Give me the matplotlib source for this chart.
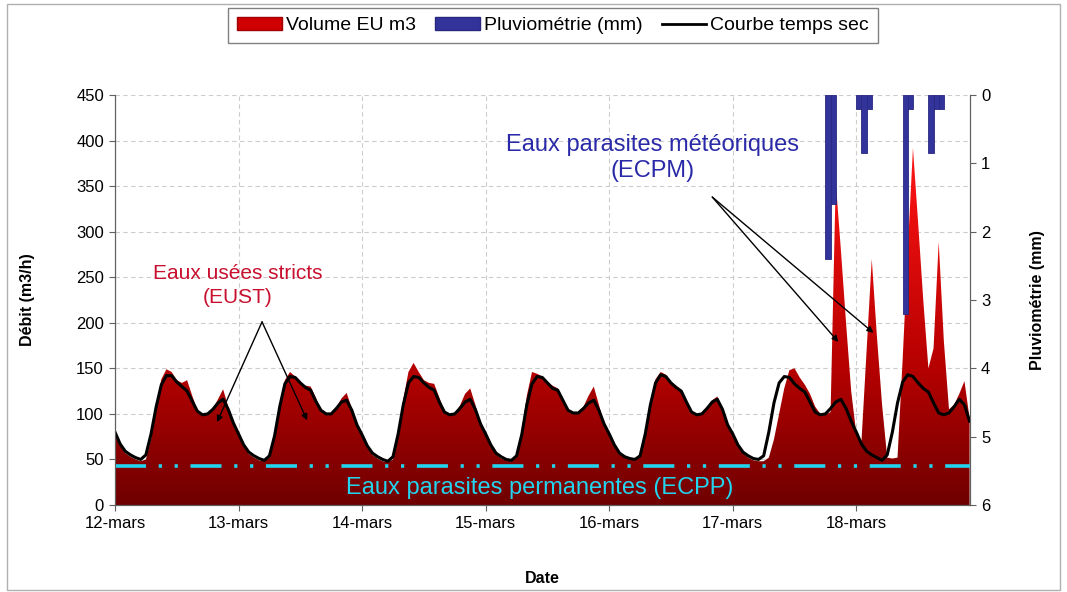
import numpy as np
import matplotlib
matplotlib.use("Agg")
import matplotlib.pyplot as plt
from matplotlib.colors import LinearSegmentedColormap
from matplotlib.patches import Patch, Rectangle
from matplotlib.lines import Line2D

plt.rcParams['font.family'] = ['Liberation Sans', 'DejaVu Sans']

# Libellés des jours (axe X)
jours = ['12-mars', '13-mars', '14-mars', '15-mars', '16-mars', '17-mars', '18-mars']

# Débit mesuré (m3/h), pas horaire, un tableau par jour
eu_12 = [76, 65, 57, 53, 50, 48, 50, 72, 108, 138, 149, 146, 137, 134, 137, 120, 104, 99, 100, 105, 116, 127, 108, 88]
eu_13 = [76, 64, 56, 52, 49, 48, 52, 74, 110, 137, 146, 141, 134, 131, 130, 118, 104, 100, 101, 107, 117, 123, 106, 87]
eu_14 = [75, 63, 55, 51, 48, 47, 50, 76, 116, 146, 156, 146, 137, 134, 133, 118, 103, 99, 101, 109, 122, 128, 110, 88]
eu_15 = [77, 64, 56, 51, 49, 48, 53, 82, 120, 146, 144, 141, 135, 131, 128, 117, 104, 101, 102, 108, 120, 130, 110, 89]
eu_16 = [77, 65, 56, 52, 50, 49, 53, 77, 112, 138, 146, 143, 135, 131, 126, 115, 103, 99, 100, 106, 115, 119, 106, 88]
eu_17 = [77, 65, 57, 52, 49, 48, 48, 52, 72, 100, 128, 148, 150, 140, 132, 122, 108, 100, 99, 102, 355, 280, 200, 125]
eu_18 = [78, 70, 170, 270, 185, 110, 52, 51, 52, 160, 280, 392, 310, 225, 150, 172, 289, 180, 105, 110, 122, 136, 95]

# Courbe de temps sec (m3/h)
ts_12 = [80, 67, 59, 55, 52, 50, 55, 78, 108, 132, 142, 142, 135, 130, 125, 114, 103, 99, 100, 105, 112, 116, 105, 90]
ts_13 = [78, 66, 58, 54, 51, 49, 54, 76, 108, 133, 141, 140, 134, 129, 126, 114, 104, 100, 100, 106, 113, 115, 104, 88]
ts_14 = [77, 65, 57, 53, 50, 48, 53, 78, 110, 134, 141, 140, 134, 129, 126, 113, 102, 99, 100, 106, 113, 116, 105, 89]
ts_15 = [78, 66, 57, 53, 50, 49, 54, 77, 110, 133, 141, 140, 134, 128, 126, 115, 104, 101, 101, 106, 112, 115, 104, 89]
ts_16 = [78, 66, 57, 53, 51, 50, 54, 78, 110, 134, 143, 141, 134, 129, 125, 113, 102, 99, 100, 106, 113, 116, 105, 88]
ts_17 = [78, 66, 58, 54, 51, 50, 54, 80, 112, 134, 141, 140, 133, 128, 124, 113, 102, 99, 100, 106, 113, 116, 106, 92]
ts_18 = [80, 67, 59, 55, 52, 49, 55, 80, 112, 135, 143, 141, 134, 128, 124, 112, 101, 99, 101, 108, 116, 110, 92]

# Pluviométrie (mm) : heure depuis le 12-mars 0h et hauteur
pluie_heures = [138, 139, 144, 145, 146, 153, 154, 158, 159, 160]
pluie_mm = [2.4, 1.6, 0.2, 0.85, 0.2, 3.2, 0.2, 0.85, 0.2, 0.2]

# Niveau des eaux parasites permanentes
ecpp = 43

debit = np.array(eu_12 + eu_13 + eu_14 + eu_15 + eu_16 + eu_17 + eu_18, dtype=float)
temps_sec = np.array(ts_12 + ts_13 + ts_14 + ts_15 + ts_16 + ts_17 + ts_18, dtype=float)
t = np.arange(len(debit)) / 24.0

fig = plt.figure(figsize=(10.67, 5.92), dpi=100)
ax = fig.add_axes([115 / 1067, 87 / 592, 855 / 1067, 410 / 592])

# aire du débit avec dégradé rouge
poly = ax.fill_between(t, 0, debit, color='none', lw=0)
cmap = LinearSegmentedColormap.from_list(
    'eu', [(0, '#700000'), (0.35, '#b40000'), (0.8, '#f01010'), (1, '#ff2020')])
grad = np.linspace(0, 1, 256).reshape(-1, 1)
im = ax.imshow(grad, extent=[0, t[-1], 0, 420], origin='lower', aspect='auto',
               cmap=cmap, zorder=2, interpolation='bilinear')
im.set_clip_path(poly.get_paths()[0], transform=ax.transData)

ax.plot(t, temps_sec, color='black', lw=2.2, zorder=4)
ax.axhline(ecpp, color='#22d4ee', lw=2.6, zorder=5,
           linestyle=(0, (8.6, 3.5, 0.9, 3.5, 0.9, 3.5)))

ax.set_xlim(0, 6.92)
ax.set_ylim(0, 450)
ax.set_yticks(range(0, 451, 50))
ax.set_xticks(range(len(jours)))
ax.set_xticklabels(jours)
ax.grid(True, linestyle=(0, (4, 3)), color='#cccccc', lw=0.8)
ax.set_axisbelow(True)
ax.spines['top'].set_visible(False)
for s in ('left', 'bottom', 'right'):
    ax.spines[s].set_color('#606060')
ax.tick_params(direction='out', length=4, color='#606060', labelsize=12, pad=4)

ax.set_ylabel('Débit (m3/h)', fontsize=11.5, fontweight='bold')
ax.yaxis.set_label_coords(-0.094, 0.5)
ax.set_xlabel('Date', fontsize=11.5, fontweight='bold')
ax.xaxis.set_label_coords(0.5, -0.16)

# pluie sur axe secondaire inversé
ax2 = ax.twinx()
ax2.bar(np.array(pluie_heures) / 24.0, pluie_mm, width=1 / 24, align='edge',
        color='#33339c', edgecolor='#28287f', lw=0.6, zorder=3)
ax2.set_ylim(6, 0)
ax2.set_yticks(range(0, 7))
ax2.spines['top'].set_visible(False)
for s in ('left', 'bottom', 'right'):
    ax2.spines[s].set_color('#606060')
ax2.tick_params(direction='out', length=4, color='#606060', labelsize=12, pad=4)
ax2.set_ylabel('Pluviométrie (mm)', fontsize=11.5, fontweight='bold', rotation=90)
ax2.yaxis.set_label_coords(1.07, 0.5)

# annotations (coordonnées de l'axe des débits)
fl = dict(arrowstyle='-|>', color='black', lw=1, mutation_scale=9, shrinkA=0, shrinkB=0)
ax2.annotate('Eaux usées stricts\n(EUST)', xy=(0.996, 241), xycoords=ax.transData,
             color='#c8102e', fontsize=15, ha='center', va='center', linespacing=1.3)
ax2.annotate('', xy=(0.826, 91), xytext=(1.19, 201), xycoords=ax.transData,
             textcoords=ax.transData, arrowprops=fl)
ax2.annotate('', xy=(1.555, 93), xytext=(1.19, 201), xycoords=ax.transData,
             textcoords=ax.transData, arrowprops=fl)

ax2.annotate('Eaux parasites météoriques\n(ECPM)', xy=(4.348, 381), xycoords=ax.transData,
             color='#2a2aa8', fontsize=17, ha='center', va='center', linespacing=1.25)
ax2.annotate('', xy=(5.854, 179), xytext=(4.834, 338), xycoords=ax.transData,
             textcoords=ax.transData, arrowprops=fl)
ax2.annotate('', xy=(6.138, 189), xytext=(4.834, 338), xycoords=ax.transData,
             textcoords=ax.transData, arrowprops=fl)

ax.text(3.44, 19, 'Eaux parasites permanentes (ECPP)', color='#22d4ee', fontsize=17,
        ha='center', va='center', zorder=6)

handles = [Patch(facecolor='#d00000', edgecolor='#a00000'),
           Patch(facecolor='#33339c', edgecolor='#28287f'),
           Line2D([], [], color='black', lw=2)]
fig.legend(handles, ['Volume EU m3', 'Pluviométrie (mm)', 'Courbe temps sec'],
           loc='upper center', bbox_to_anchor=(553 / 1067, 1 - 8 / 592), ncol=3,
           borderaxespad=0, fancybox=False, edgecolor='#606060', fontsize=14,
           handlelength=2.3, handleheight=0.7, handletextpad=0.2, columnspacing=1.0,
           borderpad=0.45)

fig.patches.append(Rectangle((7 / 1067, 2 / 592), 1053 / 1067, 586 / 592,
                             transform=fig.transFigure, fill=False,
                             edgecolor='#b0b0b0', lw=1))

fig.savefig('out.png', dpi=100)
